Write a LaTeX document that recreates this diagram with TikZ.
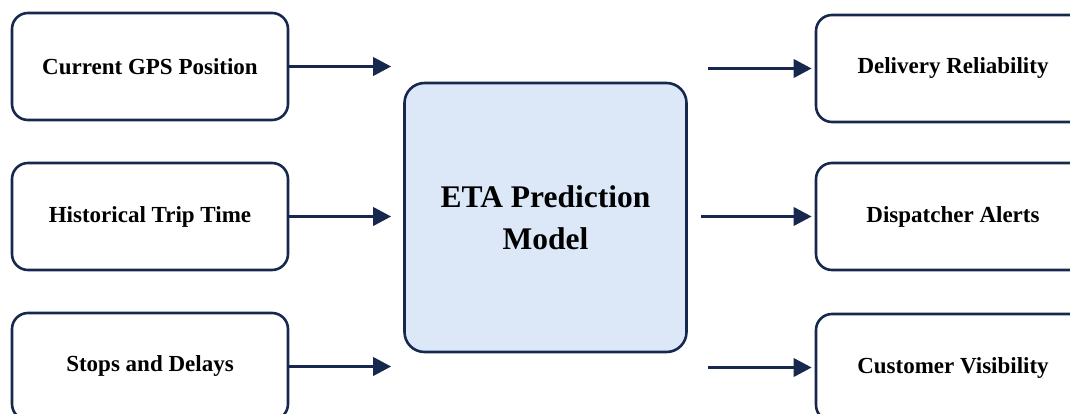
\documentclass[tikz,border=0pt]{standalone}
\usepackage{fontspec}
\setmainfont{Liberation Serif}
\usetikzlibrary{arrows.meta}

\definecolor{navy}{HTML}{17284F}
\definecolor{paleblue}{HTML}{DCE8F8}

\begin{document}
\begin{tikzpicture}[x=1pt, y=-1pt,
    box/.style={draw=navy, line width=2.6pt, rounded corners=16pt, fill=white,
        minimum width=276pt, minimum height=107pt, inner sep=0pt,
        font=\bfseries\fontsize{23}{27}\selectfont},
    model/.style={draw=navy, line width=2.6pt, rounded corners=20pt, fill=paleblue,
        minimum width=282pt, minimum height=269pt, align=center,
        font=\bfseries\fontsize{31.5}{42}\selectfont},
    flow/.style={-{Triangle[length=18pt, width=18pt]}, draw=navy, line width=3.6pt}]
    \useasboundingbox (0, 0) rectangle (1070, 414);
    \clip (0, 0) rectangle (1070, 414);

    %Nodes
    \node[box] at (150, 66.5) (gps) {Current GPS Position};
    \node[box] at (150, 216.5) (hist) {Historical Trip Time};
    \node[box] at (150, 366.5) (stops) {Stops and Delays};
    \node[model] at (545.5, 217.5) (eta) {ETA Prediction\\Model};
    \node[box, minimum width=274pt] at (953, 68.5) (rel) {Delivery Reliability};
    \node[box, minimum width=274pt] at (953, 216.5) (alerts) {Dispatcher Alerts};
    \node[box, minimum width=274pt] at (953, 367.5) (vis) {Customer Visibility};

    %Lines
    \draw[flow, shorten >=12pt] (gps.east) -- (gps.east -| eta.west);
    \draw[flow, shorten >=12pt] (hist.east) -- (hist.east -| eta.west);
    \draw[flow, shorten >=12pt] (stops.east) -- (stops.east -| eta.west);
    \draw[flow, shorten <=20pt, shorten >=3pt] (rel.west -| eta.east) -- (rel.west);
    \draw[flow, shorten <=13pt, shorten >=3pt] (alerts.west -| eta.east) -- (alerts.west);
    \draw[flow, shorten <=20pt, shorten >=3pt] (vis.west -| eta.east) -- (vis.west);

\end{tikzpicture}
\end{document}
